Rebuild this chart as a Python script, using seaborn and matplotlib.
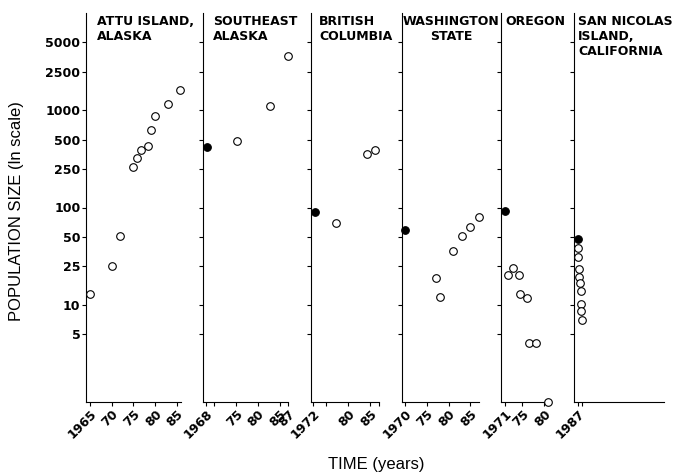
import matplotlib
matplotlib.use("Agg")
import matplotlib.pyplot as plt
from matplotlib.ticker import NullLocator
import seaborn as sns

# sea otter counts per region (open circles)
regions = ["ATTU ISLAND,\nALASKA", "SOUTHEAST\nALASKA", "BRITISH\nCOLUMBIA",
           "WASHINGTON\nSTATE", "OREGON", "SAN NICOLAS\nISLAND,\nCALIFORNIA"]

attu_years = [1965, 1970, 1972, 1975, 1975.9, 1976.8, 1978.3, 1979, 1980, 1983, 1985.8]
attu_counts = [13, 25, 51, 261, 321, 387, 428, 627, 872, 1148, 1611]

seak_years = [1975.1, 1982.9, 1987]
seak_counts = [486, 1105, 3597]

bc_years = [1977.1, 1984.1, 1986]
bc_counts = [70, 352, 387]

wash_years = [1977, 1978.1, 1981, 1983.2, 1985, 1987]
wash_counts = [18.8, 12.1, 35.8, 51, 63.7, 79.5]

oregon_years = [1971.6, 1972.9, 1974.1, 1974.5, 1976, 1976.6, 1978.1, 1980.9]
oregon_counts = [20.3, 23.8, 20.3, 12.9, 11.7, 4.05, 4.05, 1]

sn_years = [1987.14, 1987.14, 1987.37, 1987.37, 1987.53, 1987.69, 1987.83, 1987.76, 1988.06]
sn_counts = [38.2, 30.9, 23.5, 19.5, 16.7, 13.7, 10.2, 8.7, 6.9]

# translocated founders (filled circles), none for Attu
founder_years = [None, 1968.4, 1972.3, 1970, 1971, 1987]
founder_counts = [None, 422, 89, 59, 93, 47]

open_years = [attu_years, seak_years, bc_years, wash_years, oregon_years, sn_years]
open_counts = [attu_counts, seak_counts, bc_counts, wash_counts, oregon_counts, sn_counts]

# axis ranges and ticks per panel
xlims = [(1964.1, 1986.0), (1967.4, 1987.0), (1971.5, 1987.0),
         (1969.2, 1987.1), (1970.0, 1980.2), (1986.15, 2006.9)]
xticks = [[1965, 1970, 1975, 1980, 1985],
          [1968, 1970, 1975, 1980, 1985, 1987],
          [1972, 1975, 1980, 1985, 1987],
          [1970, 1975, 1980, 1985],
          [1971, 1975, 1980],
          [1987, 1988]]
xticklabels = [["1965", "70", "75", "80", "85"],
               ["1968", "", "75", "80", "85", "87"],
               ["1972", "", "80", "85", ""],
               ["1970", "75", "80", "85"],
               ["1971", "75", "80"],
               ["1987", ""]]
yticks = [5, 10, 25, 50, 100, 250, 500, 1000, 2500, 5000]

sns.set_style("ticks", {"axes.edgecolor": "black", "text.color": "black",
                        "xtick.color": "black", "ytick.color": "black",
                        "axes.labelcolor": "black"})
plt.rcParams["font.family"] = ["DejaVu Sans"]

fig = plt.figure(figsize=(6.75, 4.74), dpi=100)
W, H = 675, 474
# panel left/right edges in pixels
edges = [(86, 181), (203, 288.3), (311, 379.3), (401.7, 479.3), (500.7, 545), (574, 664)]
top_px, bot_px = 13, 402
title_dx = [11, 10, 8, 1, 5, 4]

for i, (l, r) in enumerate(edges):
    ax = fig.add_axes([l / W, (H - bot_px) / H, (r - l) / W, (bot_px - top_px) / H])
    sns.scatterplot(x=open_years[i], y=open_counts[i], ax=ax, color="white",
                    edgecolor="black", s=30, linewidth=0.8, clip_on=False, zorder=3)
    if founder_years[i] is not None:
        sns.scatterplot(x=[founder_years[i]], y=[founder_counts[i]], ax=ax, color="black",
                        edgecolor="black", s=30, linewidth=0.8, clip_on=False, zorder=3)
    ax.set_yscale("log")
    ax.set_ylim(1, 10000)
    ax.set_xlim(*xlims[i])
    ax.set_yticks(yticks)
    ax.yaxis.set_minor_locator(NullLocator())
    ax.set_xticks(xticks[i])
    ax.set_xticklabels(xticklabels[i], rotation=45, ha="right", va="top",
                       rotation_mode="anchor", fontsize=9, fontweight="bold")
    if i == 0:
        ax.set_yticklabels([str(v) for v in yticks], fontsize=9, fontweight="bold")
    else:
        ax.set_yticklabels([])
    ax.tick_params(axis="both", length=3, width=0.8, pad=1, colors="black")
    for s in ["left", "bottom"]:
        ax.spines[s].set_linewidth(0.8)
        ax.spines[s].set_color("black")
    sns.despine(ax=ax)
    ax.set_xlabel("")
    ax.set_ylabel("")
    ax.annotate(regions[i], xy=(0, 1), xycoords="axes fraction",
                xytext=(title_dx[i] * 0.72, -1.5), textcoords="offset points",
                ha="left", va="top", fontsize=9, fontweight="bold", color="black",
                multialignment="center" if i == 3 else "left")

fig.text(17 / W, 1 - 211 / H, "POPULATION SIZE (ln scale)", rotation=90,
         ha="center", va="center", fontsize=12, family="Liberation Sans", color="black")
fig.text(376.7 / W, 1 - 464 / H, "TIME (years)", ha="center", va="center",
         fontsize=12, family="Liberation Sans", color="black")

fig.savefig("out.png", dpi=100)
